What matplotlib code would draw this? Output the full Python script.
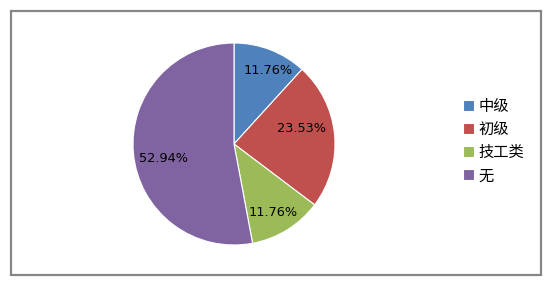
import matplotlib
matplotlib.use("Agg")
import numpy as np
import matplotlib.pyplot as plt
from matplotlib.patches import Rectangle

plt.rcParams['font.family'] = ['Noto Sans CJK SC', 'DejaVu Sans']

# data
categories = ['中级', '初级', '技工类', '无']
shares = [11.76, 23.53, 11.76, 52.94]
colors = ['#4F81BD', '#C0504D', '#9BBB59', '#8064A2']
label_dist = [0.80, 0.69, 0.78, 0.71]   # radial spot of each % label
label_turn = [-3.8, 7.7, -2.0, 6.2]     # degrees off the wedge middle

W, H = 551, 283
fig = plt.figure(figsize=(W / 100, H / 100), dpi=100)
fig.patch.set_facecolor('white')

# outer chart border
fig.add_artist(Rectangle((11 / W, 1 - 275 / H), 530 / W, 264 / H,
                         transform=fig.transFigure, fill=False,
                         edgecolor='#868686', linewidth=1.6))

# pie: centre ~(234,144), radius ~101 px
cx, cy, r = 234, 144, 101
ax = fig.add_axes([(cx - r) / W, 1 - (cy + r) / H, 2 * r / W, 2 * r / H])
wedges, texts = ax.pie(
    shares, colors=colors, startangle=90, counterclock=False,
    wedgeprops=dict(edgecolor='white', linewidth=0.8))
for w, s, d, t in zip(wedges, shares, label_dist, label_turn):
    mid = np.deg2rad((w.theta1 + w.theta2) / 2 + t)
    ax.text(d * np.cos(mid), d * np.sin(mid), f'{s:.2f}%',
            ha='center', va='center', fontsize=9.3, color='black',
            family='DejaVu Sans')
ax.set_xlim(-1, 1)
ax.set_ylim(-1, 1)
ax.set_aspect('equal')

fig.legend(wedges, categories, loc='center left',
           bbox_to_anchor=(449 / W, 1 - 141 / H),
           frameon=False, fontsize=11, handlelength=0.75,
           handleheight=0.75, handletextpad=0.3, labelspacing=0.4)

fig.savefig('out.png', dpi=100)
